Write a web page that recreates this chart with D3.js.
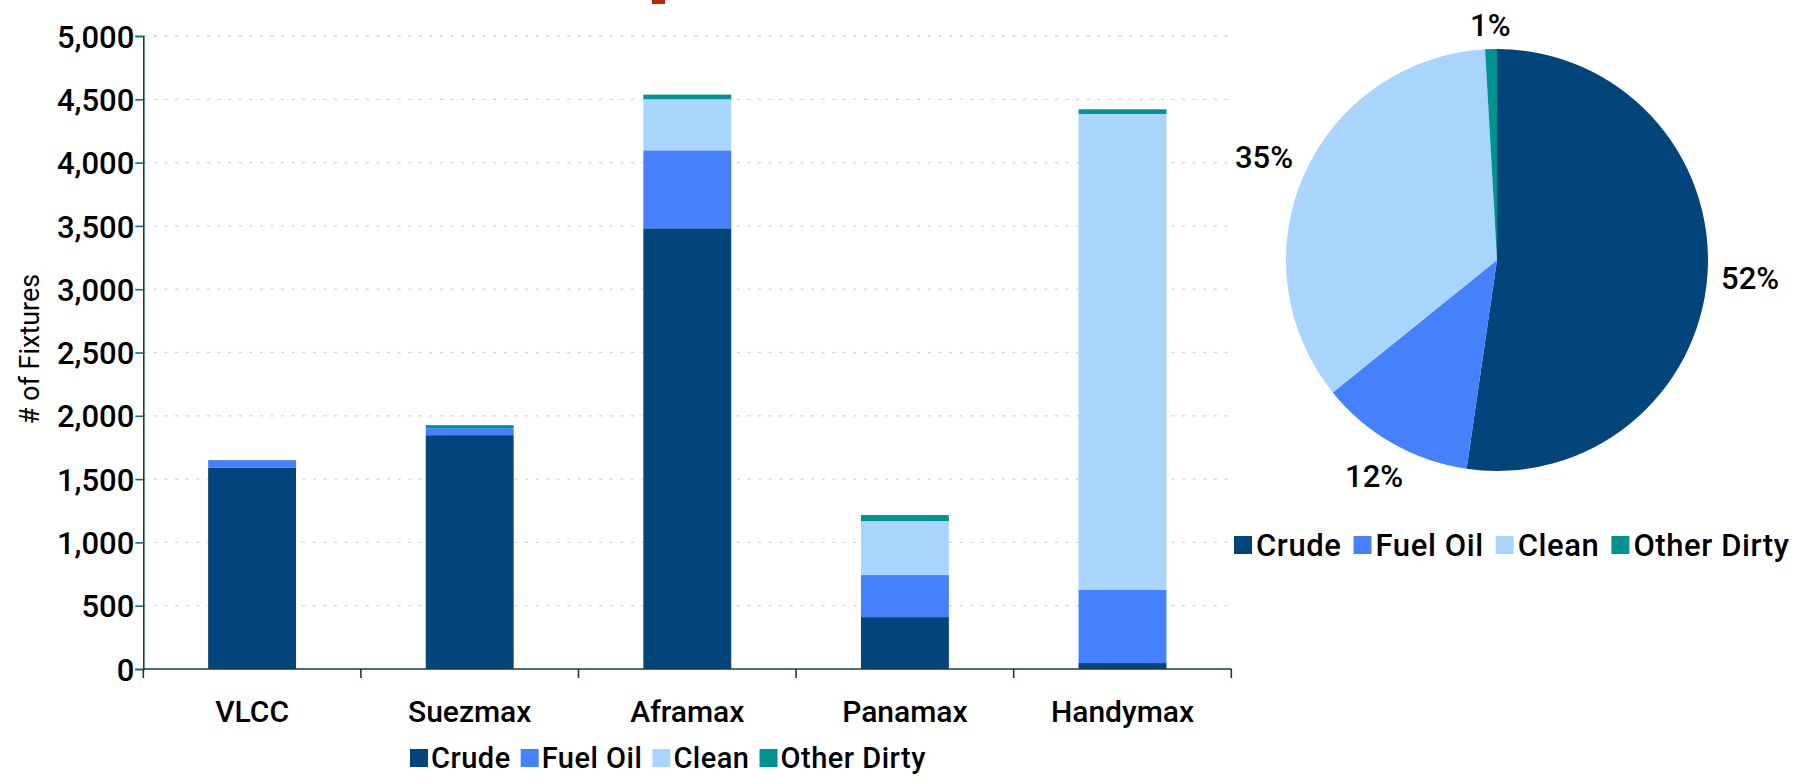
<!DOCTYPE html>
<html>
<head>
<meta charset="utf-8">
<script src="https://cdn.jsdelivr.net/npm/d3@7"></script>
<style>
  html, body { margin: 0; padding: 0; background: #fff; }
  svg { display: block; }
  text { font-family: Roboto, "Noto Sans", sans-serif; fill: #000; }
</style>
</head>
<body>
<svg id="chart" width="1815" height="779"></svg>
<script>
// ---- data ----
const categories = ["VLCC", "Suezmax", "Aframax", "Panamax", "Handymax"];
const seriesNames = ["Crude", "Fuel Oil", "Clean", "Other Dirty"];
const crude = [1589, 1847, 3481, 410, 47];
const fuelOil = [61, 56, 616, 332, 577];
const clean = [0, 0, 403, 426, 3760];
const otherDirty = [0, 23, 37, 48, 37];
const yTicks = [0, 500, 1000, 1500, 2000, 2500, 3000, 3500, 4000, 4500, 5000];
const pieShares = [52.3, 11.9, 34.9, 0.9];
const pieLabels = ["52%", "12%", "35%", "1%"];
const colors = ["#03457a", "#4580fd", "#a9d5fd", "#00938f"];

const svg = d3.select("#chart");

// ---- scales ----
const x = d3.scaleBand().domain(categories).range([143.3, 1231.3])
  .paddingInner(0.596).paddingOuter(0.298);
const y = d3.scaleLinear().domain([0, 5000]).range([669, 36]);
const color = d3.scaleOrdinal().domain(seriesNames).range(colors);

// red fragment of cropped title
svg.append("rect").attr("x", 652).attr("y", 0).attr("width", 13).attr("height", 4).attr("fill", "#b8290b");

// gridlines
svg.append("g").selectAll("line").data(yTicks.filter(d => d > 0)).join("line")
  .attr("x1", 143.3).attr("x2", 1231.3)
  .attr("y1", d => y(d)).attr("y2", d => y(d))
  .attr("stroke", "#d4d4d4").attr("stroke-width", 1.3)
  .attr("stroke-dasharray", "3,7.6");

// stacked bars
const table = categories.map((c, i) => ({
  cat: c, "Crude": crude[i], "Fuel Oil": fuelOil[i], "Clean": clean[i], "Other Dirty": otherDirty[i]
}));
const stack = d3.stack().keys(seriesNames)(table);
svg.append("g").selectAll("g").data(stack).join("g")
  .attr("fill", d => color(d.key))
  .selectAll("rect").data(d => d).join("rect")
  .attr("x", d => x(d.data.cat))
  .attr("width", x.bandwidth())
  .attr("y", d => y(d[1]))
  .attr("height", d => y(d[0]) - y(d[1]));

// y axis
const yAxis = svg.append("g").attr("transform", "translate(143.3,0)")
  .call(d3.axisLeft(y).tickValues(yTicks).tickSize(8).tickPadding(1).tickFormat(d3.format(",")));
yAxis.select(".domain").attr("stroke", "#123f3f").attr("stroke-width", 1.6);
yAxis.selectAll(".tick line").attr("stroke", "#1d6b6b").attr("stroke-width", 1.6);
yAxis.selectAll(".tick text").attr("font-size", 31).attr("font-weight", 500)
  .attr("font-family", "Roboto, sans-serif").attr("fill", "#000").attr("dy", "0.36em");

// x axis
const bounds = categories.map(c => x(c) - x.step() * x.paddingInner() / 2).concat([1231.3]);
svg.append("line").attr("x1", 143.3).attr("x2", 1231.3).attr("y1", y(0)).attr("y2", y(0))
  .attr("stroke", "#123f3f").attr("stroke-width", 1.6);
svg.append("g").selectAll("line").data(bounds).join("line")
  .attr("x1", d => d).attr("x2", d => d).attr("y1", y(0)).attr("y2", y(0) + 9)
  .attr("stroke", "#123f3f").attr("stroke-width", 1.6);
svg.append("g").selectAll("text").data(categories).join("text")
  .attr("x", d => x(d) + x.bandwidth() / 2).attr("y", 722)
  .attr("text-anchor", "middle").attr("font-size", 30).attr("font-weight", 500)
  .text(d => d);

// y title
svg.append("text").attr("transform", "translate(39,349) rotate(-90)")
  .attr("text-anchor", "middle").attr("font-size", 27).attr("font-weight", 400)
  .text("# of Fixtures");

// legend helper
function legend(x0, yc, fs, ls, sq, gapText, gapItem) {
  const g = svg.append("g");
  let cx = x0;
  seriesNames.forEach((name, i) => {
    g.append("rect").attr("x", cx).attr("y", yc - sq / 2).attr("width", sq).attr("height", sq)
      .attr("fill", colors[i]);
    const t = g.append("text").attr("x", cx + sq + gapText).attr("y", yc).attr("dy", "0.36em")
      .attr("font-size", fs).attr("font-weight", 500).attr("letter-spacing", ls).text(name);
    cx += sq + gapText + t.node().getComputedTextLength() + gapItem;
  });
}
legend(410, 758, 29, 0.5, 18, 3, 10);
legend(1234, 545, 31, 0.6, 18, 4, 12);

// pie
const pieCx = 1497, pieCy = 260, R = 211;
const pie = d3.pie().sort(null).value(d => d)(pieShares);
const arc = d3.arc().innerRadius(0).outerRadius(R);
const pg = svg.append("g").attr("transform", `translate(${pieCx},${pieCy})`);
pg.selectAll("path").data(pie).join("path")
  .attr("d", arc).attr("fill", (d, i) => colors[i]);
// labels: placed outside, pushed out by half of the text box along the slice direction
const capH = 22;
pg.selectAll("text").data(pie).join("text")
  .attr("text-anchor", "middle").attr("dy", "0.36em")
  .attr("font-size", 31).attr("font-weight", 500)
  .text((d, i) => pieLabels[i])
  .each(function(d) {
    const w = this.getComputedTextLength();
    const a = (d.startAngle + d.endAngle) / 2;
    const s = Math.sin(a), c = Math.cos(a);
    const dist = 224 + Math.abs(s) * w / 2 + Math.abs(c) * capH / 2;
    d3.select(this).attr("transform", `translate(${s * dist},${-c * dist})`);
  });
</script>
</body>
</html>
